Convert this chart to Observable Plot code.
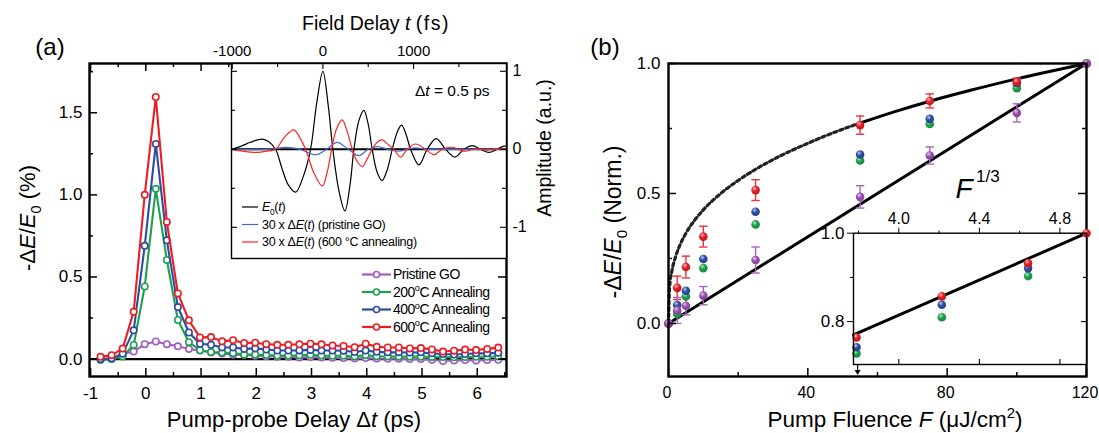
<!DOCTYPE html>
<html><head><meta charset="utf-8">
<script src="https://cdn.jsdelivr.net/npm/d3@7"></script>
<script src="https://cdn.jsdelivr.net/npm/@observablehq/plot@0.6"></script>
<style>
html,body{margin:0;padding:0;background:#fff;}
#wrap{position:relative;width:1099px;height:433px;overflow:hidden;background:#fff;}
#wrap svg{position:absolute;left:0;top:0;}
</style></head><body><div id="wrap"></div>
<script>
// ---------------- DATA ----------------
// Panel (a): pump-probe delay (ps) and -dE/E0 (%)
const delayPs = [-0.82,-0.62,-0.42,-0.22,-0.02,0.18,0.38,0.58,0.78,0.98,1.18,1.38,1.58,1.78,1.98,2.18,2.38,2.58,2.78,2.98,3.18,3.38,3.58,3.78,3.98,4.18,4.38,4.58,4.78,4.98,5.18,5.38,5.58,5.78,5.98,6.18,6.38];
const pristineA = [-0.004,0.0,0.03,0.046,0.091,0.107,0.091,0.078,0.062,0.052,0.04,0.034,0.027,0.026,0.02,0.018,0.014,0.014,0.01,0.012,0.01,0.008,0.006,0.004,0.006,0.004,0.002,0.002,0.0,0.0,-0.004,-0.012,-0.008,-0.006,-0.008,-0.006,-0.004];
const ann200A = [-0.004,0.0,0.016,0.086,0.442,1.037,0.604,0.238,0.103,0.054,0.043,0.04,0.037,0.027,0.028,0.025,0.022,0.022,0.023,0.026,0.022,0.02,0.02,0.016,0.024,0.017,0.016,0.015,0.015,0.015,0.013,0.012,0.011,0.012,0.014,0.014,0.016];
const ann400A = [0.0,0.005,0.033,0.175,0.69,1.31,0.723,0.317,0.162,0.093,0.087,0.071,0.071,0.062,0.065,0.058,0.052,0.052,0.053,0.056,0.052,0.052,0.051,0.043,0.052,0.044,0.041,0.042,0.04,0.041,0.035,0.031,0.028,0.031,0.035,0.035,0.038];
const ann600A = [0.014,0.024,0.064,0.288,1.0,1.596,0.835,0.40,0.236,0.132,0.134,0.108,0.115,0.098,0.10,0.091,0.087,0.087,0.09,0.094,0.09,0.083,0.08,0.072,0.094,0.075,0.071,0.071,0.065,0.067,0.059,0.046,0.051,0.058,0.055,0.062,0.07];
const seriesNamesA = ["Pristine GO","200","400","600"];
const seriesColorsA = ["#a35cc0","#1ca14f","#2e4da0","#ec1c24"];

// Panel (a) inset: field delay (fs) and amplitude (a.u.)
const e0Time = [-1008,-900,-800,-669,-600,-522,-450,-380,-301,-220,-136,-70,0,60,110,180,243,300,342,400,452,500,544,600,654,710,765,820,868,920,967,1059,1150,1250,1353,1456,1555,1647,1739,1831,1920,1996,2025];
const e0Amp  = [0,0.04,0.09,0.13,0.10,0,-0.25,-0.46,-0.55,-0.36,0,0.58,1.0,0.55,0,-0.55,-0.79,-0.45,0,0.38,0.50,0.32,0,-0.30,-0.40,-0.26,0,0.22,0.31,0.18,0,-0.20,0,0.137,0,-0.10,0,0.047,0,-0.04,0,0.04,0.04];
const red600Time = [-1008,-900,-743,-600,-522,-420,-320,-250,-191,-100,-7,50,96,150,213,270,324,380,434,490,544,600,654,720,783,857,930,1022,1132,1224,1316,1426,1500,1574,1680,1800,1900,2025];
const red600Amp  = [0,-0.02,-0.04,-0.02,0,0.16,0.248,0.14,0,-0.30,-0.47,-0.28,0,0.26,0.376,0.22,0,-0.16,-0.22,-0.12,0,0.09,0.12,0.06,0,-0.10,0,0.068,0,-0.068,0,0.026,0,-0.025,0.01,-0.01,0.005,0];
const bluePrisTime = [-1008,-600,-412,-250,-81,40,158,280,397,500,600,720,838,930,1022,1150,1400,2025];
const bluePrisAmp  = [0,0,0.025,0,-0.07,0,0.09,0,-0.08,0,0.035,0,-0.025,0,0.017,0,0,0];

// Panel (b): pump fluence (uJ/cm2) and normalized -dE/E0
const fluence    = [0,2.5,5,10,25,55,75,100,120];
const pristineB  = [0,0.05,0.068,0.107,0.244,0.487,0.646,0.81,1.0];
const pristineErr= [0,0.05,0.035,0.035,0.05,0.043,0.033,0.035,0];
const ann200B    = [0,0.037,0.104,0.213,0.381,0.627,0.767,0.905,1.0];
const ann400B    = [0,0.071,0.126,0.248,0.43,0.65,0.787,0.925,1.0];
const ann600B    = [0,0.137,0.217,0.334,0.513,0.763,0.856,0.929,1.0];
const ann600Err  = [0,0.045,0.042,0.04,0.04,0.035,0.027,0.015,0];
// fit curves
const linFitF = [0,120], linFitV = [0,1.0];
const rootFitDotF = [0,0.3,1,2,3.5,5,7.5,10,15,20,25,32,40,47,55];
const rootFitDotV = [0,0.136,0.203,0.255,0.308,0.347,0.397,0.437,0.5,0.55,0.593,0.644,0.693,0.732,0.771];
const rootFitSolF = [55,65,75,87,100,110,120];
const rootFitSolV = [0.771,0.815,0.855,0.898,0.941,0.971,1.0];
// Panel (b) inset: F^(1/3)
const insetRoot = [3.79,4.2135,4.642,4.932];
const inset600 = [0.764,0.857,0.932,1.0];
const inset400 = [0.742,0.838,0.921,null];
const inset200 = [0.728,0.81,0.903,null];
const insetFitX = [3.775,4.932], insetFitY = [0.770,1.0];

// ---------------- HELPERS ----------------
const W = 1099, H = 433;
const FONT = '"Liberation Sans", Arial, Helvetica, sans-serif';
const wrap = document.getElementById("wrap");

function panel(g, xd, yd, marks) {
  return Plot.plot({
    width: W, height: H,
    marginLeft: g.left, marginRight: W - g.right, marginTop: g.top, marginBottom: H - g.bottom,
    x: {domain: xd}, y: {domain: yd},
    style: {background: "transparent", overflow: "visible", fontFamily: FONT, color: "black"},
    marks
  });
}
function innerTicks(g, {xMajor=[], xMinor=[], yMajor=[], yMinor=[], sides="blrt", major=8, minor=4, sw=1.5}) {
  const fw = g.right - g.left, fh = g.bottom - g.top, m = [];
  const addX = (vals, len) => {
    if (!vals.length) return;
    if (sides.includes("b")) m.push(Plot.tickX(vals, {x: d => d, insetTop: fh - len, stroke: "black", strokeWidth: sw}));
    if (sides.includes("t")) m.push(Plot.tickX(vals, {x: d => d, insetBottom: fh - len, stroke: "black", strokeWidth: sw}));
  };
  const addY = (vals, len) => {
    if (!vals.length) return;
    if (sides.includes("l")) m.push(Plot.tickY(vals, {y: d => d, insetRight: fw - len, stroke: "black", strokeWidth: sw}));
    if (sides.includes("r")) m.push(Plot.tickY(vals, {y: d => d, insetLeft: fw - len, stroke: "black", strokeWidth: sw}));
  };
  addX(xMajor, major); addX(xMinor, minor); addY(yMajor, major); addY(yMinor, minor);
  return m;
}
const capSymbol = {draw(ctx, size) { const r = Math.sqrt(size / Math.PI); ctx.moveTo(-r, 0); ctx.lineTo(r, 0); }};

// gradient defs for shaded spheres
const colorsB = {purple: "#9b4fb2", green: "#1da34c", blue: "#2d4fa3", red: "#e41f26"};
const defsSvg = d3.create("svg").attr("width", 0).attr("height", 0);
const defs = defsSvg.append("defs");
for (const [id, base] of Object.entries(colorsB)) {
  const gr = defs.append("radialGradient").attr("id", "g-" + id).attr("cx", "38%").attr("cy", "32%").attr("r", "68%");
  gr.append("stop").attr("offset", "0%").attr("stop-color", d3.interpolateRgb(base, "#fff")(0.7));
  gr.append("stop").attr("offset", "45%").attr("stop-color", base);
  gr.append("stop").attr("offset", "100%").attr("stop-color", d3.color(base).darker(0.5).formatHex());
}
wrap.appendChild(defsSvg.node());

// ---------------- PANEL (a) main ----------------
const gA = {left: 89, right: 506, top: 63, bottom: 376};
const seriesA = [pristineA, ann200A, ann400A, ann600A];
const mainA = panel(gA, [-1.02, 6.53], [-0.106, 1.80], [
  Plot.ruleY([0], {stroke: "black", strokeWidth: 2.4}),
  ...seriesA.flatMap((vals, k) => [
    Plot.line(delayPs, {x: d => d, y: (d, i) => vals[i], stroke: seriesColorsA[k], strokeWidth: 2.1}),
    Plot.dot(delayPs, {x: d => d, y: (d, i) => vals[i], r: 3.2, fill: "white", stroke: seriesColorsA[k], strokeWidth: 1.6})
  ]),
  ...innerTicks(gA, {xMajor: [-1,0,1,2,3,4,5,6], xMinor: [-0.5,0.5,1.5,2.5,3.5,4.5,5.5,6.5], yMajor: [0,0.5,1,1.5], yMinor: [0.25,0.75,1.25,1.75]}),
  Plot.frame({stroke: "black", strokeWidth: 2.4}),
  Plot.axisX({anchor: "bottom", ticks: [-1,0,1,2,3,4,5,6], tickSize: 0, tickPadding: 10, fontSize: 17, label: null, tickFormat: d => String(d)}),
  Plot.axisY({anchor: "left", ticks: [0,0.5,1,1.5], tickSize: 0, tickPadding: 7, fontSize: 17, label: null, tickFormat: d3.format(".1f")})
]);
wrap.appendChild(mainA);

// ---------------- PANEL (a) inset ----------------
const gAi = {left: 231, right: 506, top: 63, bottom: 258};
const insetA = panel(gAi, [-1008, 2025], [-1.40, 1.10], [
  Plot.frame({fill: "white", stroke: "none"}),
  Plot.ruleY([0], {stroke: "black", strokeWidth: 2}),
  Plot.line(e0Time, {x: d => d, y: (d, i) => e0Amp[i], curve: "catmull-rom", stroke: "black", strokeWidth: 1.2}),
  Plot.line(bluePrisTime, {x: d => d, y: (d, i) => bluePrisAmp[i], curve: "catmull-rom", stroke: "#3d6bd0", strokeWidth: 1.2}),
  Plot.line(red600Time, {x: d => d, y: (d, i) => red600Amp[i], curve: "catmull-rom", stroke: "#ff2222", strokeWidth: 1.2}),
  ...innerTicks(gAi, {xMajor: [-1000,0,1000], xMinor: [-500,500,1500], yMajor: [-1,0,1], yMinor: [-0.5,0.5], sides: "tlr", major: 6, minor: 4, sw: 1.1}),
  Plot.frame({stroke: "black", strokeWidth: 1.4}),
  Plot.axisX({anchor: "top", ticks: [-1000,0,1000], tickSize: 0, tickPadding: 8, fontSize: 15, label: null, tickFormat: d => String(d)}),
  Plot.axisY({anchor: "right", ticks: [-1,0,1], tickSize: 0, tickPadding: 6, fontSize: 16, label: null, tickFormat: d => String(d)})
]);
wrap.appendChild(insetA);

// ---------------- PANEL (b) main ----------------
const gB = {left: 668, right: 1086, top: 63, bottom: 376};
const fill = c => "url(#g-" + c + ")";
const errMarks = (vals, errs, color) => [
  Plot.ruleX(fluence, {x: d => d, y1: (d, i) => vals[i] - errs[i], y2: (d, i) => vals[i] + errs[i], stroke: color, strokeWidth: 1.4, filter: (d, i) => errs[i] > 0}),
  Plot.dot(fluence, {x: d => d, y: (d, i) => vals[i] - errs[i], symbol: capSymbol, r: 4.2, stroke: color, strokeWidth: 1.4, fill: "none", filter: (d, i) => errs[i] > 0}),
  Plot.dot(fluence, {x: d => d, y: (d, i) => vals[i] + errs[i], symbol: capSymbol, r: 4.2, stroke: color, strokeWidth: 1.4, fill: "none", filter: (d, i) => errs[i] > 0})
];
const mainB = panel(gB, [0, 120], [-0.204, 1.0], [
  Plot.line(linFitF, {x: d => d, y: (d, i) => linFitV[i], stroke: "black", strokeWidth: 3}),
  Plot.line(rootFitDotF, {x: d => d, y: (d, i) => rootFitDotV[i], curve: "monotone-x", stroke: "#222", strokeWidth: 3.2, strokeDasharray: "3.2,3.2"}),
  Plot.line(rootFitSolF, {x: d => d, y: (d, i) => rootFitSolV[i], curve: "monotone-x", stroke: "black", strokeWidth: 3}),
  ...errMarks(ann600B, ann600Err, "#e8333a"),
  ...errMarks(pristineB, pristineErr, "#a865c0"),
  Plot.dot(fluence, {x: d => d, y: (d, i) => ann200B[i], r: 4.3, fill: fill("green")}),
  Plot.dot(fluence, {x: d => d, y: (d, i) => ann400B[i], r: 4.3, fill: fill("blue")}),
  Plot.dot(fluence, {x: d => d, y: (d, i) => ann600B[i], r: 4.3, fill: fill("red")}),
  Plot.dot(fluence, {x: d => d, y: (d, i) => pristineB[i], r: 4.3, fill: fill("purple")}),
  ...innerTicks(gB, {xMajor: [0,40,80,120], xMinor: [20,60,100], yMajor: [0,0.5,1], yMinor: [0.25,0.75], sides: "blr"}),
  Plot.frame({stroke: "black", strokeWidth: 2.4}),
  Plot.axisX({anchor: "bottom", ticks: [0,40,80,120], tickSize: 0, tickPadding: 10, fontSize: 16, dx: -1.5, label: null, tickFormat: d => String(d)}),
  Plot.axisY({anchor: "left", ticks: [0,0.5,1], tickSize: 0, tickPadding: 8, fontSize: 17, label: null, tickFormat: d3.format(".1f")})
]);
wrap.appendChild(mainB);

// ---------------- PANEL (b) inset ----------------
const gBi = {left: 853, right: 1086, top: 232.7, bottom: 364};
const insetB = panel(gBi, [3.775, 4.932], [0.703, 1.0], [
  Plot.frame({fill: "white", stroke: "none"}),
  Plot.line(insetFitX, {x: d => d, y: (d, i) => insetFitY[i], stroke: "black", strokeWidth: 3}),
  Plot.dot(insetRoot, {x: d => d, y: (d, i) => inset200[i], r: 4.3, fill: fill("green")}),
  Plot.dot(insetRoot, {x: d => d, y: (d, i) => inset400[i], r: 4.3, fill: fill("blue")}),
  Plot.dot(insetRoot, {x: d => d, y: (d, i) => inset600[i], r: 4.3, fill: fill("red")}),
  ...innerTicks(gBi, {xMajor: [4.0,4.4,4.8], yMajor: [0.8], yMinor: [0.9], sides: "br", major: 5, minor: 3, sw: 1.1}),
  Plot.frame({stroke: "black", strokeWidth: 1.4}),
  Plot.axisX({anchor: "top", ticks: [4.0,4.4,4.8], tickSize: 6, tickPadding: 3, fontSize: 16, label: null, tickFormat: d3.format(".1f")}),
  Plot.axisX({anchor: "top", ticks: [3.8,4.2,4.6], tickSize: 3, label: null, tickFormat: () => ""}),
  Plot.axisY({anchor: "left", ticks: [0.8,1.0], tickSize: 6, tickPadding: 3, fontSize: 17, label: null, tickFormat: d3.format(".1f")}),
  Plot.axisY({anchor: "left", ticks: [0.9], tickSize: 3, label: null, tickFormat: () => ""})
]);
wrap.appendChild(insetB);

// ---------------- OVERLAY: titles, legends, arrow ----------------
const ov = d3.create("svg").attr("width", W).attr("height", H).style("font-family", FONT).style("overflow", "visible");
function rich(x, y, parts, {size = 16, anchor = "middle", rotate = 0, ls = 0} = {}) {
  const t = ov.append("text").attr("transform", `translate(${x},${y}) rotate(${rotate})`)
    .attr("y", 0.35 * size).attr("text-anchor", anchor).attr("font-size", size).attr("fill", "black");
  if (ls) t.attr("letter-spacing", ls);
  let shift = 0;
  for (const p of parts) {
    const o = typeof p === "string" ? {t: p} : p;
    const target = o.sub ? 0.28 * size : o.sup ? -0.4 * size : 0;
    const ts = t.append("tspan").text(o.t);
    if (target - shift !== 0) ts.attr("dy", target - shift);
    shift = target;
    if (o.i) ts.attr("font-style", "italic");
    if (o.sub || o.sup) ts.attr("font-size", size * 0.66);
    if (o.ls != null) ts.attr("letter-spacing", o.ls);
  }
  return t;
}
rich(50, 47, ["(a)"], {size: 24});
rich(605, 47, ["(b)"], {size: 24});
rich(27, 218, ["-Δ", {t: "E", i: 1}, "/", {t: "E", i: 1}, {t: "0", sub: 1}, " (%)"], {size: 22, rotate: -90});
rich(294, 419, ["Pump-probe Delay Δ", {t: "t", i: 1}, " (ps)"], {size: 22});
rich(376, 23, ["Field Delay ", {t: "t", i: 1}, " ", {t: "(fs)", ls: 1.5}], {size: 19.5});
rich(544, 148, ["Amplitude (a.u.)"], {size: 19.5, rotate: -90});
rich(415, 91, ["Δ", {t: "t", i: 1}, " = 0.5 ps"], {size: 15.5, anchor: "start"});
rich(895, 419, ["Pump Fluence ", {t: "F", i: 1}, " (μJ/cm", {t: "2", sup: 1}, ")"], {size: 22.5});
rich(613, 222, ["-Δ", {t: "E", i: 1}, "/", {t: "E", i: 1}, {t: "0", sub: 1}, " (Norm.)"], {size: 23, rotate: -90});
rich(964, 188, [{t: "F", i: 1}], {size: 28});
rich(976, 176, ["1/3"], {size: 17, anchor: "start"});

// inset (a) legend
const insetLegend = [
  {c: "black", parts: [{t: "E", i: 1}, {t: "0", sub: 1}, "(", {t: "t", i: 1}, ")"]},
  {c: "#3d6bd0", parts: ["30 x Δ", {t: "E", i: 1}, "(", {t: "t", i: 1}, ") (pristine GO)"]},
  {c: "#ff2222", parts: ["30 x Δ", {t: "E", i: 1}, "(", {t: "t", i: 1}, ") (600 °C annealing)"]}
];
const insetRows = [207, 224.5, 242];
insetLegend.forEach((e, k) => {
  ov.append("line").attr("x1", 242).attr("x2", 258).attr("y1", insetRows[k]).attr("y2", insetRows[k]).attr("stroke", e.c).attr("stroke-width", 1.2);
  rich(262, insetRows[k], e.parts, {size: 12.5, anchor: "start", ls: -0.3});
});

// main (a) legend
const legRows = [274.5, 292, 309.5, 327];
seriesNamesA.forEach((nm, k) => {
  const y = legRows[k], c = seriesColorsA[k];
  ov.append("line").attr("x1", 362).attr("x2", 391).attr("y1", y).attr("y2", y).attr("stroke", c).attr("stroke-width", 2.2);
  ov.append("circle").attr("cx", 376.5).attr("cy", y).attr("r", 3).attr("fill", "white").attr("stroke", c).attr("stroke-width", 1.6);
  const parts = k === 0 ? [nm] : [nm, {t: "o", sup: 1}, "C Annealing"];
  rich(393, y, parts, {size: 14, anchor: "start", ls: -0.5});
});

// arrow marking where the inset starts on the fluence axis
const ax = mainB.scale("x").apply(insetRoot[0] ** 3);
ov.append("line").attr("x1", ax).attr("x2", ax).attr("y1", gBi.bottom).attr("y2", gB.bottom - 5).attr("stroke", "black").attr("stroke-width", 1.2);
ov.append("path").attr("d", `M${ax - 3},${gB.bottom - 6} L${ax + 3},${gB.bottom - 6} L${ax},${gB.bottom - 1} Z`).attr("fill", "black");

wrap.appendChild(ov.node());
</script></body></html>
